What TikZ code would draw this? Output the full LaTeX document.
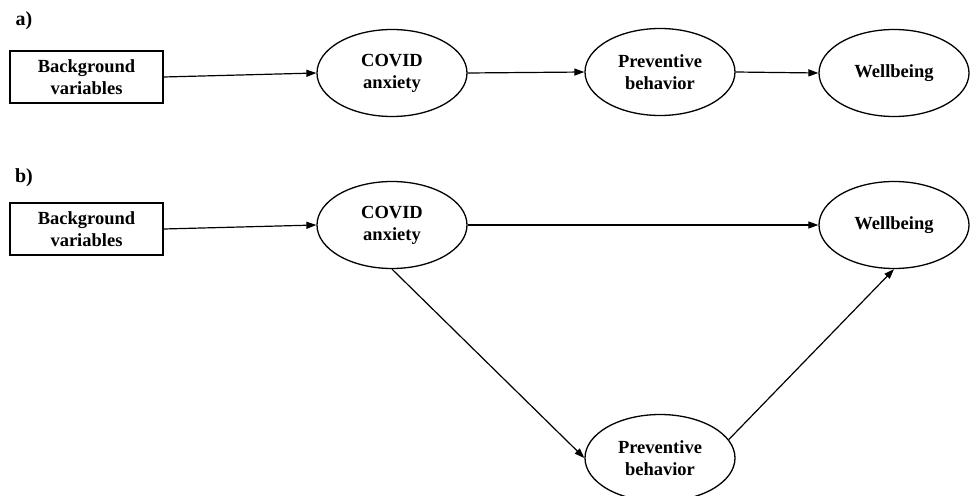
\documentclass[tikz,border=0pt]{standalone}
\usepackage{fontspec}
\setmainfont{Liberation Serif}
\usetikzlibrary{shapes.geometric,arrows.meta}
\begin{document}
\begin{tikzpicture}[x=1pt,y=-1pt,
  every node/.style={font=\bfseries\fontsize{18.5}{22}\selectfont, align=center},
  varbox/.style={draw, line width=1.3pt, minimum width=153pt, minimum height=52pt, inner sep=0pt},
  latent/.style={draw, ellipse, line width=1.3pt, minimum width=150pt, minimum height=87pt, inner sep=0pt},
  panel/.style={font=\bfseries\fontsize{20}{24}\selectfont},
  path/.style={line width=1.2pt, -{Triangle[length=10pt,width=7pt]}}]
\useasboundingbox (0,0) rectangle (971,495);
% panel a
\node[panel] (la) at (24,21) {a)};
\node[varbox] (b1) at (86.5,77) {Background\\variables};
\node[latent] (c1) at (392,73) {COVID\\anxiety};
\node[latent] (p1) at (660,72) {Preventive\\behavior};
\node[latent] (w1) at (894,73) {Wellbeing};
\draw[path] (b1.east) -- (c1.west);
\draw[path] (c1.east) -- (p1.west);
\draw[path] (p1.east) -- (w1.west);
% panel b
\node[panel] (lb) at (24,178) {b)};
\node[varbox] (b2) at (86.5,229) {Background\\variables};
\node[latent] (c2) at (392,225) {COVID\\anxiety};
\node[latent] (w2) at (894,225) {Wellbeing};
\node[latent] (p2) at (660,458) {Preventive\\behavior};
\draw[path] (b2.east) -- (c2.west);
\draw[path] (c2.east) -- (w2.west);
\draw[path] (c2.south) -- (p2.west);
\draw[path] (p2.15) -- (w2.south);
\end{tikzpicture}
\end{document}
